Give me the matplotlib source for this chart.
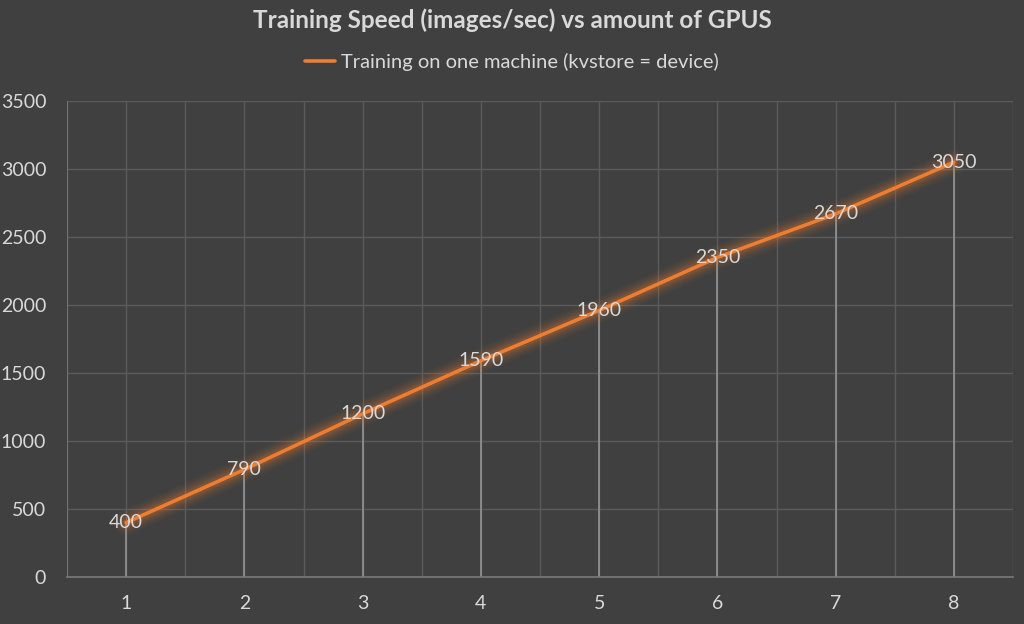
import matplotlib
matplotlib.use('Agg')
import matplotlib.pyplot as plt
import numpy as np

# data
gpus = [1, 2, 3, 4, 5, 6, 7, 8]
speed = [400, 790, 1200, 1590, 1960, 2350, 2670, 3050]
y_ticks = [0, 500, 1000, 1500, 2000, 2500, 3000, 3500]

bg = '#404040'
grid_col = '#5b5b5b'
text_col = '#d9d9d9'
orange = '#ED7D31'

plt.rcParams['font.family'] = ['Lato', 'DejaVu Sans']

fig = plt.figure(figsize=(10.24, 6.24), dpi=100)
fig.patch.set_facecolor(bg)
ax = fig.add_axes([67 / 1024, 1 - 577 / 624, (1013 - 67) / 1024, (577 - 101) / 624])
ax.set_facecolor(bg)

x = np.arange(len(gpus))
ax.set_xlim(-0.5, len(gpus) - 0.5)
ax.set_ylim(0, 3500)

# gridlines: horizontal at ticks, vertical at category centres and boundaries
for yt in y_ticks[1:]:
    ax.axhline(yt, color=grid_col, lw=1, zorder=1)
for xv in np.arange(-0.5, len(gpus), 0.5):
    ax.axvline(xv, color=grid_col, lw=1, zorder=1)

# drop lines from points
ax.vlines(x, 0, speed, color='#9a9a9a', lw=1.1, zorder=2)

# soft glow around the line
for lw, a in [(18, 0.04), (15, 0.05), (12, 0.07), (9, 0.1), (6, 0.14)]:
    ax.plot(x, speed, color=orange, lw=lw, alpha=a, solid_capstyle='round', zorder=3)
ax.plot(x, speed, color=orange, lw=2.6, solid_capstyle='round', zorder=4,
        label='Training on one machine (kvstore = device)')

for xi, v in zip(x, speed):
    ax.text(xi, v, str(v), color=text_col, fontsize=14, ha='center', va='center', zorder=5)

ax.set_xticks(x)
ax.set_xticklabels([str(g) for g in gpus])
ax.set_yticks(y_ticks)
ax.tick_params(colors=text_col, labelsize=14, length=0)
ax.tick_params(axis='x', pad=13)
ax.tick_params(axis='y', pad=15)
for lbl in ax.get_xticklabels() + ax.get_yticklabels():
    lbl.set_color(text_col)

for s in ['top', 'right', 'left']:
    ax.spines[s].set_visible(False)
ax.spines['bottom'].set_color('#7a7a7a')
ax.spines['bottom'].set_linewidth(1.2)
ax.axvline(-0.5, color='#7a7a7a', lw=1.2, zorder=1)

fig.text(0.5, 1 - 20 / 624, 'Training Speed (images/sec) vs amount of GPUS',
         ha='center', va='center', color=text_col, fontsize=17.5, fontweight='bold')

leg = ax.legend(loc='center', bbox_to_anchor=(0.5, 1 - 62 / 624), bbox_transform=fig.transFigure,
                frameon=False, fontsize=14.5, handlelength=1.5, handletextpad=0.3)
for t in leg.get_texts():
    t.set_color(text_col)

fig.savefig('out.png', dpi=100, facecolor=bg)
